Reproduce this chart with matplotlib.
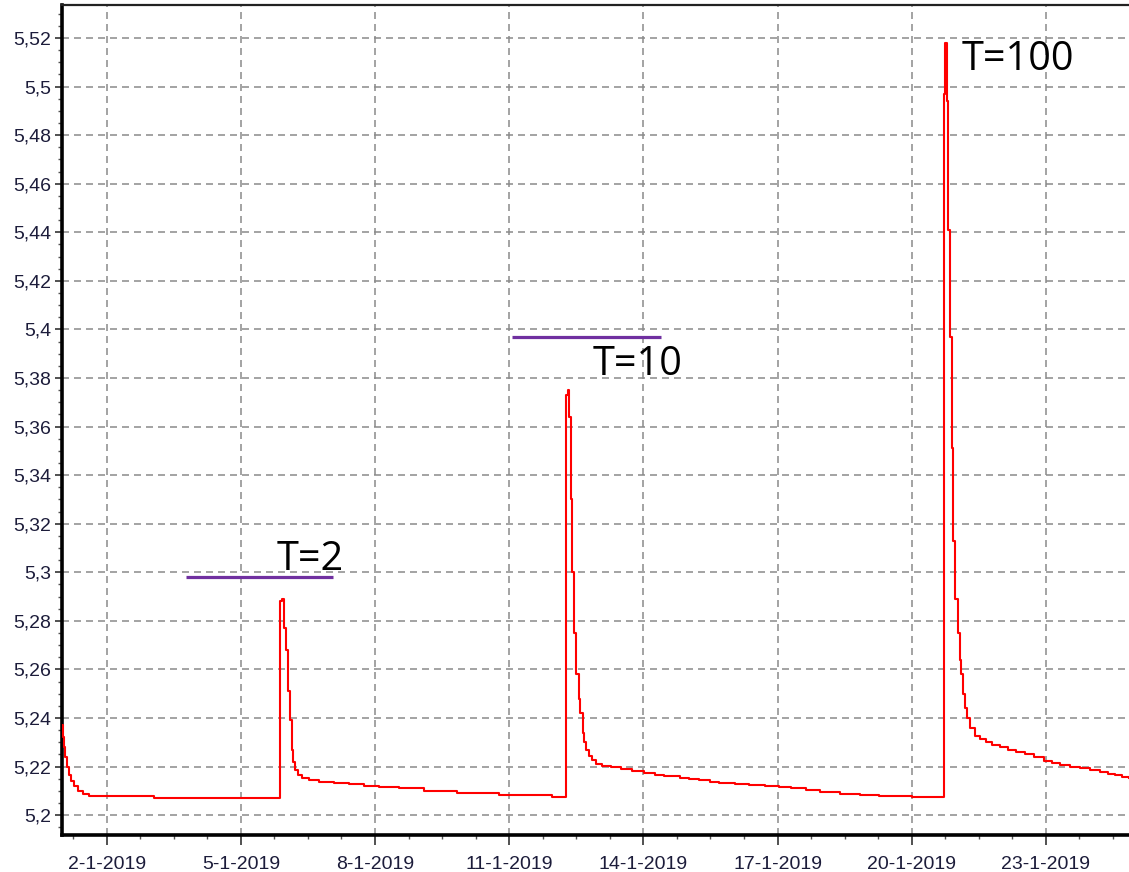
import datetime as dt
import matplotlib
matplotlib.use("Agg")
import matplotlib.pyplot as plt
import matplotlib.dates as mdates
from matplotlib.ticker import MultipleLocator, FuncFormatter

plt.rcParams["font.family"] = ["Liberation Sans", "DejaVu Sans"]

# ---- data (days since 1-1-2019, level) ----
t_days = [0.0, 0.016, 0.038, 0.072, 0.105, 0.15, 0.195, 0.26, 0.35, 0.46, 0.60, 2.05,
          4.87, 4.92, 4.96, 5.01, 5.06, 5.10, 5.14, 5.17, 5.21, 5.28, 5.37, 5.52, 5.75,
          6.08, 6.42, 6.76, 7.09, 7.54, 8.10, 8.84, 9.78, 10.96,
          11.28, 11.31, 11.34, 11.38, 11.41, 11.46, 11.50, 11.55, 11.59, 11.64, 11.68,
          11.72, 11.79, 11.86, 11.95, 12.08, 12.28, 12.51, 12.75, 13.02, 13.25, 13.47,
          13.81, 14.03, 14.25, 14.48, 14.70, 15.04, 15.37, 15.71, 16.04, 16.31, 16.63,
          16.94, 17.39, 17.84, 18.28, 19.00,
          19.72, 19.75, 19.79, 19.82, 19.86, 19.90, 19.93, 19.97, 20.03, 20.08, 20.11,
          20.14, 20.19, 20.23, 20.30, 20.41, 20.52, 20.66, 20.80, 20.97, 21.15, 21.33,
          21.53, 21.73, 21.96, 22.14, 22.31, 22.54, 22.76, 22.99, 23.21, 23.39, 23.54,
          23.70, 23.86]
level = [5.237, 5.232, 5.228, 5.224, 5.220, 5.2165, 5.214, 5.2118, 5.210, 5.2088, 5.208, 5.2072,
         5.288, 5.289, 5.277, 5.268, 5.251, 5.239, 5.227, 5.222, 5.2185, 5.2165, 5.2152, 5.2145, 5.2138,
         5.2131, 5.2126, 5.2120, 5.2115, 5.2111, 5.2099, 5.2091, 5.2082, 5.2075,
         5.373, 5.375, 5.364, 5.330, 5.300, 5.275, 5.258, 5.248, 5.242, 5.234, 5.230,
         5.2268, 5.2242, 5.2226, 5.2212, 5.2202, 5.2197, 5.2191, 5.2183, 5.2172, 5.2166, 5.2161,
         5.2153, 5.2148, 5.2143, 5.2137, 5.2132, 5.2128, 5.2125, 5.2121, 5.2115, 5.2110, 5.2103,
         5.2094, 5.2088, 5.2084, 5.2080, 5.2075,
         5.497, 5.518, 5.494, 5.441, 5.397, 5.351, 5.313, 5.289, 5.275, 5.264, 5.258,
         5.250, 5.244, 5.240, 5.236, 5.2325, 5.2312, 5.2300, 5.2290, 5.2280, 5.2270, 5.2260,
         5.2250, 5.2238, 5.2222, 5.2214, 5.2207, 5.2200, 5.2194, 5.2186, 5.2178, 5.2171, 5.2165,
         5.2158, 5.2152]

# threshold markers
thr_start = [2.77, 10.07]
thr_end = [6.06, 13.40]
thr_level = [5.298, 5.397]

ann_labels = ["T=2", "T=10", "T=100"]
ann_day = [4.81, 11.86, 20.12]
ann_level = [5.3009, 5.3812, 5.5068]

base = dt.datetime(2019, 1, 1)
def to_dt(d):
    return base + dt.timedelta(days=d)

x = [to_dt(d) for d in t_days]

fig = plt.figure(figsize=(11.29, 8.72), dpi=100)
ax = fig.add_axes([62 / 1129, 37 / 872, 1 - 62 / 1129, (835 - 5) / 872])

ax.plot(x, level, color="#ff0000", lw=1.5, drawstyle="steps-post", zorder=3)

for s, e, v in zip(thr_start, thr_end, thr_level):
    ax.plot([to_dt(s), to_dt(e)], [v, v], color="#7030a0", lw=2.3, solid_capstyle="butt", zorder=4)

for lab, d, v in zip(ann_labels, ann_day, ann_level):
    ax.text(to_dt(d), v, lab, fontsize=28.5, family=["Open Sans", "DejaVu Sans"],
            ha="left", va="baseline", color="black", zorder=5)

ax.set_xlim(to_dt(0.0), to_dt(23.86))
ax.set_ylim(5.1918, 5.5336)

ax.xaxis.set_major_locator(mdates.DayLocator(bymonthday=list(range(2, 32, 3))))
ax.xaxis.set_major_formatter(FuncFormatter(
    lambda v, p: (lambda d: f"{d.day}-{d.month}-{d.year}")(mdates.num2date(v))))
ax.xaxis.set_minor_locator(MultipleLocator(0.75))

ax.yaxis.set_major_locator(MultipleLocator(0.02))
ax.yaxis.set_minor_locator(MultipleLocator(0.005))
ax.yaxis.set_major_formatter(FuncFormatter(lambda v, p: f"{round(v, 4):g}".replace(".", ",")))

lw_g = 1.1
ax.grid(True, which="major", color="#8a8a8a", lw=lw_g,
        linestyle=(0, (7 * 0.72 / lw_g, 5 * 0.72 / lw_g)))
ax.set_axisbelow(True)

for sp in ["left", "bottom"]:
    ax.spines[sp].set_linewidth(2.6)
    ax.spines[sp].set_color("black")
ax.spines["top"].set_linewidth(1.6)
ax.spines["top"].set_color("#222222")
ax.spines["right"].set_visible(False)

ax.tick_params(axis="both", which="major", labelsize=14, labelcolor="#1c1c3a",
               length=5, width=1.2, color="#333333", direction="out")
ax.tick_params(axis="both", which="minor", length=3, width=1, color="#555555")
ax.tick_params(axis="x", which="major", pad=8, length=7)
ax.tick_params(axis="y", which="major", pad=3)

fig.savefig("out.png", dpi=100)
